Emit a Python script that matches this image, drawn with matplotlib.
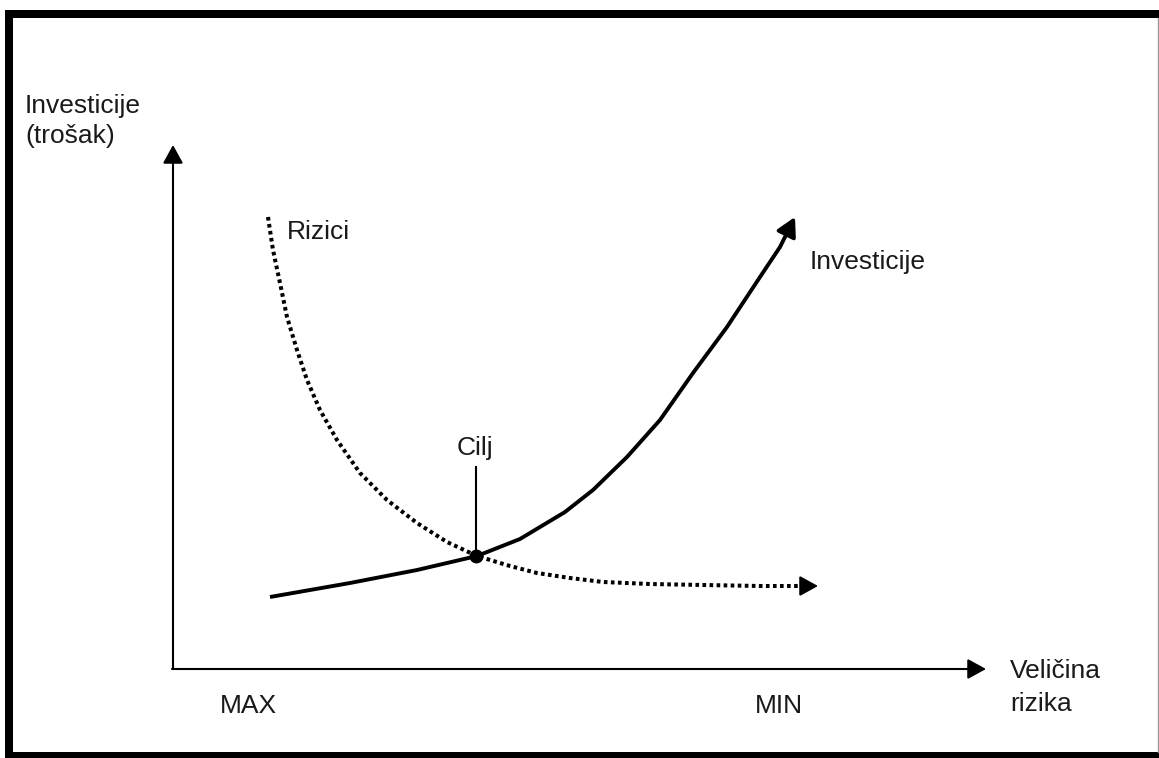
import matplotlib
matplotlib.use('Agg')
import matplotlib.pyplot as plt

# tocke krivulja ocitane sa slike (koordinate crteza, y raste prema dolje)
rizici_x = [268, 273, 280, 287, 297, 307, 320, 337, 360, 387, 417, 447, 477, 510, 537, 570, 603, 650, 703, 760, 805, 818]
rizici_y = [217, 250, 283, 317, 350, 380, 410, 440, 473, 500, 523, 542, 556, 566, 573, 578, 582, 584, 585, 586, 586, 586]
invest_x = [270, 310, 350, 417, 477, 520, 565, 593, 627, 660, 693, 727, 760, 780, 795]
invest_y = [597, 590, 583, 570, 556, 539, 512, 490, 457, 420, 373, 327, 277, 247, 217]
cilj = (476, 556)

plt.rcParams['font.family'] = ['Liberation Sans', 'DejaVu Sans']

fig = plt.figure(figsize=(11.59, 7.58), dpi=100)
ax = fig.add_axes([0, 0, 1, 1])
ax.set_xlim(0, 1159)
ax.set_ylim(758, 0)
ax.axis('off')

# okvir
ax.fill_between([5, 1159], 10, 18, color='black', lw=0)
ax.fill_between([5, 13], 10, 758, color='black', lw=0)
ax.fill_between([5, 1159], 752, 758, color='black', lw=0)
ax.plot([1158, 1158], [18, 752], color='#999999', lw=1)

arrow = dict(arrowstyle='-|>,head_length=0.4,head_width=0.22', color='black',
             lw=1.5, mutation_scale=28, shrinkA=0, shrinkB=0)

# osi
ax.annotate('', xy=(173, 145), xytext=(173, 669), arrowprops=arrow)
ax.annotate('', xy=(986, 669), xytext=(172, 669), arrowprops=arrow)

# krivulje
ax.plot(rizici_x[:-1], rizici_y[:-1], color='black', lw=2.9, linestyle=(0, (0.9, 0.85)),
        dash_capstyle='butt', dash_joinstyle='round')
ax.annotate('', xy=(rizici_x[-1], rizici_y[-1]), xytext=(rizici_x[-2], rizici_y[-2]),
            arrowprops=arrow)
ax.plot(invest_x[:-1], invest_y[:-1], color='black', lw=2.8, solid_capstyle='butt',
        solid_joinstyle='round')
ax.annotate('', xy=(invest_x[-1], invest_y[-1]), xytext=(invest_x[-2], invest_y[-2]),
            arrowprops=dict(arrow, lw=2.8))

# cilj
ax.plot([cilj[0], cilj[0]], [467, cilj[1]], color='black', lw=1.5)
ax.plot(*cilj, 'o', color='black', markersize=9)

fs = 19
tc = '#1a1a1a'
ax.text(25, 113, 'Investicije', fontsize=fs, color=tc, ha='left', va='baseline')
ax.text(25, 143, '(trošak)', fontsize=fs, color=tc, ha='left', va='baseline')
ax.text(287, 239, 'Rizici', fontsize=fs, color=tc, ha='left', va='baseline')
ax.text(810, 269, 'Investicije', fontsize=fs, color=tc, ha='left', va='baseline')
ax.text(475, 455, 'Cilj', fontsize=fs, color=tc, ha='center', va='baseline')
ax.text(220, 713, 'MAX', fontsize=fs, color=tc, ha='left', va='baseline')
ax.text(755, 713, 'MIN', fontsize=fs, color=tc, ha='left', va='baseline')
ax.text(1010, 678, 'Veličina', fontsize=fs, color=tc, ha='left', va='baseline')
ax.text(1010, 711, 'rizika', fontsize=fs, color=tc, ha='left', va='baseline')

fig.savefig('out.png', dpi=100, facecolor='white')
